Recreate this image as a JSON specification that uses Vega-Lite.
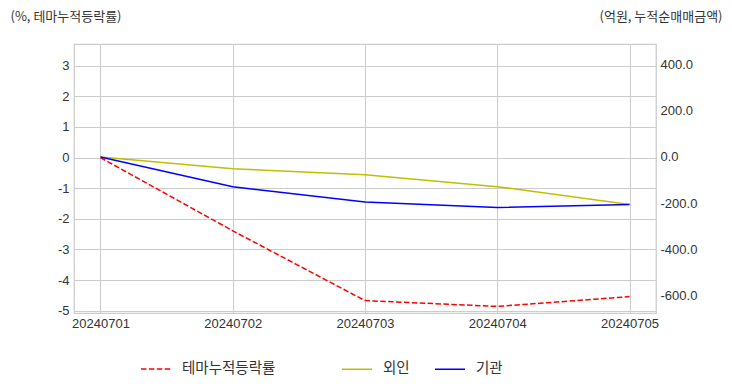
{
  "$schema": "https://vega.github.io/schema/vega-lite/v6.json",
  "autosize": {"type": "none"},
  "width": 582,
  "height": 269,
  "padding": {"left": 74, "top": 44, "right": 76, "bottom": 79},
  "background": "white",
  "config": {
    "locale": {"number": {"decimal": ".", "thousands": ",", "grouping": [3], "currency": ["", ""], "minus": "-"}},
    "view": {"stroke": "#cccccc", "strokeWidth": 1.25},
    "font": "Noto Sans CJK KR",
    "axis": {
      "grid": true,
      "gridColor": "#cccccc",
      "gridWidth": 1,
      "ticks": false,
      "domain": false,
      "labelFont": "Liberation Sans",
      "labelFontSize": 13,
      "labelColor": "#333333"
    },
    "legend": {
      "title": null,
      "orient": "none",
      "direction": "horizontal",
      "symbolType": "stroke",
      "symbolSize": 900,
      "symbolStrokeWidth": 1.5,
      "labelOffset": 10,
      "labelFontSize": 14.5,
      "labelFont": "Noto Sans CJK KR",
      "labelColor": "#333333",
      "padding": 0
    }
  },
  "data": {
    "values": [
      {"date": "20240701", "series": "테마누적등락률", "value": 0},
      {"date": "20240702", "series": "테마누적등락률", "value": -2.39},
      {"date": "20240703", "series": "테마누적등락률", "value": -4.67},
      {"date": "20240704", "series": "테마누적등락률", "value": -4.86},
      {"date": "20240705", "series": "테마누적등락률", "value": -4.54},
      {"date": "20240701", "series": "외인", "value": 0},
      {"date": "20240702", "series": "외인", "value": -51},
      {"date": "20240703", "series": "외인", "value": -77},
      {"date": "20240704", "series": "외인", "value": -129},
      {"date": "20240705", "series": "외인", "value": -206},
      {"date": "20240701", "series": "기관", "value": 0},
      {"date": "20240702", "series": "기관", "value": -129},
      {"date": "20240703", "series": "기관", "value": -196},
      {"date": "20240704", "series": "기관", "value": -220},
      {"date": "20240705", "series": "기관", "value": -207}
    ]
  },
  "encoding": {
    "x": {
      "field": "date",
      "type": "ordinal",
      "scale": {"type": "point", "padding": 0.2},
      "axis": {"title": null, "labelAngle": 0, "labelPadding": 4}
    }
  },
  "layer": [
    {
      "transform": [{"filter": "datum.series === '테마누적등락률'"}],
      "mark": {"type": "line", "strokeWidth": 1.5, "strokeDash": [5.5, 2.4]},
      "encoding": {
        "color": {
          "field": "series",
          "type": "nominal",
          "scale": {"domain": ["테마누적등락률"], "range": ["#ff0000"]},
          "legend": {"legendX": 66, "legendY": 309, "symbolDash": [5.5, 2.4]}
        },
        "y": {
          "field": "value",
          "type": "quantitative",
          "scale": {"domain": [-5.075, 3.71], "nice": false, "zero": false},
          "axis": {
            "orient": "left",
            "values": [-5, -4, -3, -2, -1, 0, 1, 2, 3],
            "format": "d",
            "labelPadding": 5,
            "title": "(%, 테마누적등락률)",
            "titleAngle": 0,
            "titleX": -64,
            "titleY": -28,
            "titleAlign": "left",
            "titleBaseline": "middle",
            "titleFont": "Noto Sans CJK KR",
            "titleFontSize": 13,
            "titleFontWeight": "normal",
            "titleColor": "#333333"
          }
        }
      }
    },
    {
      "transform": [{"filter": "datum.series !== '테마누적등락률'"}],
      "mark": {"type": "line", "strokeWidth": 1.5},
      "encoding": {
        "color": {
          "field": "series",
          "type": "nominal",
          "scale": {"domain": ["외인", "기관"], "range": ["#bfbf00", "#0000ff"]},
          "legend": {"legendX": 267, "legendY": 309, "columnPadding": 22}
        },
        "y": {
          "field": "value",
          "type": "quantitative",
          "scale": {"domain": [-678, 491], "nice": false, "zero": false},
          "axis": {
            "orient": "right",
            "values": [-600, -400, -200, 0, 200, 400],
            "format": ".1f",
            "labelPadding": 4,
            "title": "(억원, 누적순매매금액)",
            "titleAngle": 0,
            "titleX": 66,
            "titleY": -28,
            "titleAlign": "right",
            "titleBaseline": "middle",
            "titleFont": "Noto Sans CJK KR",
            "titleFontSize": 13,
            "titleFontWeight": "normal",
            "titleColor": "#333333"
          }
        }
      }
    }
  ],
  "resolve": {"scale": {"y": "independent", "color": "independent"}, "legend": {"color": "independent"}}
}
